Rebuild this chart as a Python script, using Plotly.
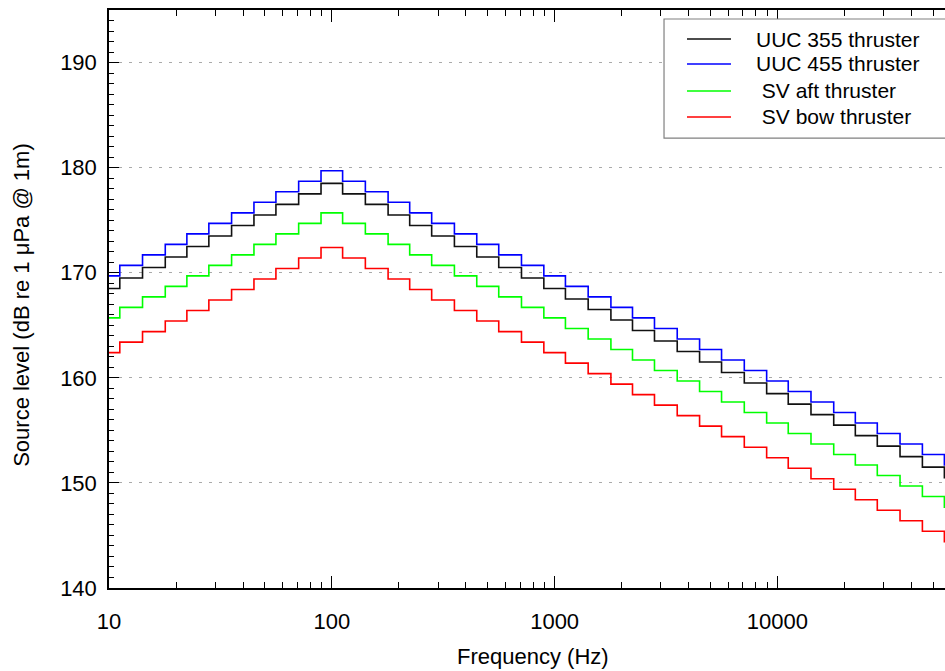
import plotly.graph_objects as go

# 1/3-octave band centre frequencies (Hz)
freq = [10, 12.5, 16, 20, 25, 31.5, 40, 50, 63, 80,
        100, 125, 160, 200, 250, 315, 400, 500, 630, 800,
        1000, 1250, 1600, 2000, 2500, 3150, 4000, 5000, 6300, 8000,
        10000, 12500, 16000, 20000, 25000, 31500, 40000, 50000, 63000]

uuc355 = [168.5, 169.5, 170.5, 171.5, 172.5, 173.5, 174.5, 175.5, 176.5, 177.5,
          178.5, 177.5, 176.5, 175.5, 174.5, 173.5, 172.5, 171.5, 170.5, 169.5,
          168.5, 167.5, 166.5, 165.5, 164.5, 163.5, 162.5, 161.5, 160.5, 159.5,
          158.5, 157.5, 156.5, 155.5, 154.5, 153.5, 152.5, 151.5, 150.5]
uuc455 = [169.7, 170.7, 171.7, 172.7, 173.7, 174.7, 175.7, 176.7, 177.7, 178.7,
          179.7, 178.7, 177.7, 176.7, 175.7, 174.7, 173.7, 172.7, 171.7, 170.7,
          169.7, 168.7, 167.7, 166.7, 165.7, 164.7, 163.7, 162.7, 161.7, 160.7,
          159.7, 158.7, 157.7, 156.7, 155.7, 154.7, 153.7, 152.7, 151.7]
sv_aft = [165.7, 166.7, 167.7, 168.7, 169.7, 170.7, 171.7, 172.7, 173.7, 174.7,
          175.7, 174.7, 173.7, 172.7, 171.7, 170.7, 169.7, 168.7, 167.7, 166.7,
          165.7, 164.7, 163.7, 162.7, 161.7, 160.7, 159.7, 158.7, 157.7, 156.7,
          155.7, 154.7, 153.7, 152.7, 151.7, 150.7, 149.7, 148.7, 147.7]
sv_bow = [162.4, 163.4, 164.4, 165.4, 166.4, 167.4, 168.4, 169.4, 170.4, 171.4,
          172.4, 171.4, 170.4, 169.4, 168.4, 167.4, 166.4, 165.4, 164.4, 163.4,
          162.4, 161.4, 160.4, 159.4, 158.4, 157.4, 156.4, 155.4, 154.4, 153.4,
          152.4, 151.4, 150.4, 149.4, 148.4, 147.4, 146.4, 145.4, 144.4]

series_names = ["UUC 355 thruster", "UUC 455 thruster", " SV aft thruster", " SV bow thruster"]
series_vals = [uuc355, uuc455, sv_aft, sv_bow]
series_colors = ["#111111", "#0000ff", "#00ff00", "#ff0000"]

x_major = [10, 100, 1000, 10000]
x_labels = ["10", "100", "1000", "10000"]
x_minor = [m * d for d in [10, 100, 1000, 10000] for m in range(2, 10)]
y_major = [140, 150, 160, 170, 180, 190]
x_title = "Frequency (Hz)"
y_title = "Source level (dB re 1 μPa @ 1m)"

fig = go.Figure()
for name, vals, col in zip(series_names, series_vals, series_colors):
    fig.add_trace(go.Scatter(x=freq, y=vals, name=name, mode="lines",
                             showlegend=False,
                             line=dict(color=col, width=1.6, shape="hvh")))

# legend drawn as box + sample lines + text (paper coordinates)
leg_x0, leg_x1, leg_y0, leg_y1 = 0.6639, 1.02, 0.7785, 0.9844
line_x0, line_x1, text_x = 0.6914, 0.7440, 0.7715
entry_y = [0.9498, 0.9066, 0.8599, 0.8149]
fig.add_shape(type="rect", xref="paper", yref="paper",
              x0=leg_x0, x1=leg_x1, y0=leg_y0, y1=leg_y1,
              line=dict(color="#808080", width=1.2), fillcolor="white", layer="above")
for name, col, ey in zip(series_names, series_colors, entry_y):
    fig.add_shape(type="line", xref="paper", yref="paper",
                  x0=line_x0, x1=line_x1, y0=ey, y1=ey,
                  line=dict(color=col, width=1.6), layer="above")
    fig.add_annotation(xref="paper", yref="paper", x=text_x, y=ey,
                       xanchor="left", yanchor="middle", showarrow=False,
                       text=name.replace(" ", "&nbsp;", 1) if name.startswith(" ") else name,
                       font=dict(size=21, color="black"))

# axis titles
fig.add_annotation(xref="paper", yref="paper", x=0.5066, y=-0.119,
                   xanchor="center", yanchor="middle", showarrow=False,
                   text=x_title, font=dict(size=22, color="black"))
fig.add_annotation(xref="paper", yref="paper", x=-0.104, y=0.49,
                   xanchor="center", yanchor="middle", showarrow=False,
                   textangle=-90, text=y_title, font=dict(size=22, color="black"))

FONT = "Liberation Sans, Arial, sans-serif"
fig.update_layout(
    width=945, height=671,
    margin=dict(l=109, r=0, t=10, b=83, autoexpand=False),
    paper_bgcolor="white", plot_bgcolor="white",
    font=dict(family=FONT, size=22, color="black"),
    showlegend=False,
    xaxis=dict(type="log", range=[1, 4.752], automargin=False,
               tickvals=x_major, ticktext=x_labels,
               ticks="inside", ticklen=12, tickwidth=1.2, tickcolor="black",
               minor=dict(tickvals=x_minor, ticks="inside", ticklen=6,
                          tickwidth=1.2, tickcolor="black", showgrid=False),
               showline=True, linecolor="black", linewidth=1.5,
               mirror="ticks", showgrid=False, zeroline=False,
               ticklabelstandoff=13),
    yaxis=dict(range=[140, 195], tickvals=y_major, automargin=False,
               ticks="inside", ticklen=10, tickwidth=1.2, tickcolor="black",
               minor=dict(dtick=1, ticks="inside", ticklen=5,
                          tickwidth=1.2, tickcolor="black", showgrid=False),
               showline=True, linecolor="black", linewidth=1.5,
               showgrid=True, gridcolor="#aaaaaa", gridwidth=1,
               griddash="3px,7px", zeroline=False,
               ticklabelstandoff=6),
)

fig.write_html("out.html")
